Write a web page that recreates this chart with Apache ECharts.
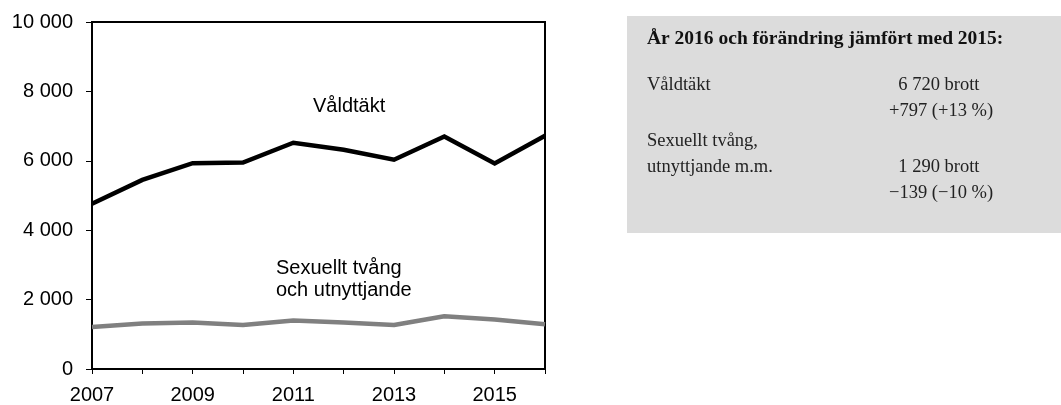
<!DOCTYPE html>
<html>
<head>
<meta charset="utf-8">
<script src="https://cdn.jsdelivr.net/npm/echarts@6/dist/echarts.min.js"></script>
<style>
  html, body { margin: 0; padding: 0; background: #fff; }
  #chart { width: 1061px; height: 405px; }
</style>
</head>
<body>
<div id="chart"></div>
<script>
  // data
  const years = ['2007', '2008', '2009', '2010', '2011', '2012', '2013', '2014', '2015', '2016']
  const valdtakt = [4760, 5450, 5930, 5950, 6520, 6320, 6030, 6700, 5923, 6720]
  const sexuelltTvang = [1210, 1310, 1340, 1270, 1400, 1340, 1270, 1520, 1429, 1290]
  const yTicks = [0, 2000, 4000, 6000, 8000, 10000]

  // text for the side box
  const boxTitle = 'År 2016 och förändring jämfört med 2015:'
  const boxRows = [
    ['Våldtäkt', '\u20026 720 brott'],
    ['', '+797 (+13 %)'],
    ['Sexuellt tvång,', ''],
    ['utnyttjande m.m.', '\u20021 290 brott'],
    ['', '\u2212139 (\u221210 %)']
  ]

  const fmt = v => String(v).replace(/\B(?=(\d{3})+(?!\d))/g, ' ')
  const sans = '"Liberation Sans", Arial, sans-serif'
  const serif = '"Liberation Serif", "Times New Roman", serif'

  const chart = echarts.init(document.getElementById('chart'))

  // baselines of the box rows
  const rowBase = [91, 117, 147, 173, 199]
  const boxText = [
    {
      type: 'text', x: 647, y: 39,
      style: { text: boxTitle, font: 'bold 19.5px ' + serif, fill: '#111', verticalAlign: 'middle' }
    }
  ]
  boxRows.forEach((r, i) => {
    if (r[0]) boxText.push({ type: 'text', x: 647, y: rowBase[i] - 6, style: { text: r[0], font: '18.5px ' + serif, fill: '#222', verticalAlign: 'middle' } })
    if (r[1]) boxText.push({ type: 'text', x: 889, y: rowBase[i] - 6, style: { text: r[1], font: '18.5px ' + serif, fill: '#222', verticalAlign: 'middle' } })
  })

  const option = {
    animation: false,
    grid: {
      left: 92, top: 22, width: 453, height: 348,
      show: true, borderColor: '#000', borderWidth: 2, backgroundColor: 'transparent'
    },
    xAxis: {
      type: 'category',
      data: years,
      boundaryGap: false,
      axisLine: { lineStyle: { color: '#000', width: 2 } },
      axisTick: { show: true, interval: 0, length: 5, lineStyle: { color: '#000', width: 1 } },
      axisLabel: { interval: 1, color: '#000', fontFamily: sans, fontSize: 20, margin: 16 },
      splitLine: { show: false }
    },
    yAxis: {
      type: 'value',
      min: yTicks[0], max: yTicks[yTicks.length - 1], interval: 2000,
      axisLine: { show: true, lineStyle: { color: '#000', width: 2 } },
      axisTick: { show: true, length: 6, lineStyle: { color: '#000', width: 1 } },
      axisLabel: { color: '#000', fontFamily: sans, fontSize: 20, margin: 19, formatter: fmt },
      splitLine: { show: false }
    },
    series: [
      {
        name: 'Våldtäkt', type: 'line', data: valdtakt,
        symbol: 'none', lineStyle: { color: '#000', width: 4.5, join: 'miter' },
        z: 3
      },
      {
        name: 'Sexuellt tvång och utnyttjande', type: 'line', data: sexuelltTvang,
        symbol: 'none', lineStyle: { color: '#808080', width: 4.5 },
        z: 2
      }
    ],
    graphic: [
      { type: 'text', x: 313, y: 106, style: { text: 'Våldtäkt', font: '20px ' + sans, fill: '#000', verticalAlign: 'middle' } },
      { type: 'text', x: 276, y: 268, style: { text: 'Sexuellt tvång', font: '20px ' + sans, fill: '#000', verticalAlign: 'middle' } },
      { type: 'text', x: 276, y: 290, style: { text: 'och utnyttjande', font: '20px ' + sans, fill: '#000', verticalAlign: 'middle' } },
      { type: 'rect', shape: { x: 627, y: 16, width: 434, height: 217 }, style: { fill: '#dcdcdc' }, z: -1 },
      ...boxText
    ]
  }

  chart.setOption(option)
</script>
</body>
</html>
